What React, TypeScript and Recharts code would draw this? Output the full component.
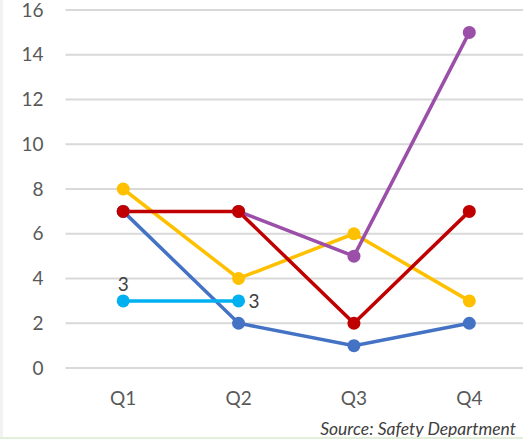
import React from 'react';
import { LineChart, Line, XAxis, YAxis, CartesianGrid, LabelList } from 'recharts';

const categories = ['Q1', 'Q2', 'Q3', 'Q4'];
const blueValues = [7, 2, 1, 2];
const yellowValues = [8, 4, 6, 3];
const purpleValues: (number | null)[] = [null, 7, 5, 15];
const redValues = [7, 7, 2, 7];
const lightBlueValues: (number | null)[] = [3, 3, null, null];
const yTicks = [0, 2, 4, 6, 8, 10, 12, 14, 16];
const sourceText = 'Source: Safety Department';

const data = categories.map((c, i) => ({
  name: c,
  blue: blueValues[i],
  yellow: yellowValues[i],
  purple: purpleValues[i],
  red: redValues[i],
  lightBlue: lightBlueValues[i],
}));

const FONT = 'Lato, "Open Sans", sans-serif';

const LightBlueLabel = (props: any) => {
  const { x, y, value, index } = props;
  if (value == null) return null;
  if (index === 0) {
    return (
      <text x={x} y={y - 10} textAnchor="middle" fill="#404040" fontSize={19} fontFamily={FONT}>
        {value}
      </text>
    );
  }
  return (
    <text x={x + 10} y={y + 7} textAnchor="start" fill="#404040" fontSize={19} fontFamily={FONT}>
      {value}
    </text>
  );
};

const dot = (color: string) => ({ r: 6.5, fill: color, stroke: color, strokeWidth: 0 });

export default function App() {
  return (
    <div
      style={{
        position: 'fixed',
        left: 0,
        top: 0,
        width: 523,
        height: 439,
        overflow: 'hidden',
        background: '#ffffff',
        fontFamily: FONT,
      }}
    >
      <div style={{ position: 'absolute', left: 0, top: 0, width: 3, height: 437, background: '#f2f2f2' }} />
      <LineChart
        width={527}
        height={439}
        data={data}
        margin={{ top: 10, right: 0, left: 5.5, bottom: 41 }}
      >
        <CartesianGrid vertical={false} stroke="#d9d9d9" strokeWidth={2} />
        <XAxis
          dataKey="name"
          axisLine={false}
          tickLine={false}
          height={30}
          tickMargin={18}
          padding={{ left: 57.7, right: 57.7 }}
          tick={{ fill: '#595959', fontSize: 19, fontFamily: FONT }}
        />
        <YAxis
          domain={[0, 16]}
          ticks={yTicks}
          axisLine={false}
          tickLine={false}
          width={60}
          tickMargin={16}
          interval={0}
          tick={{ fill: '#595959', fontSize: 19, fontFamily: FONT }}
        />
        <Line dataKey="blue" stroke="#4472C4" strokeWidth={3.5} dot={dot('#4472C4')} activeDot={false} isAnimationActive={false} />
        <Line dataKey="yellow" stroke="#FFC000" strokeWidth={3.5} dot={dot('#FFC000')} activeDot={false} isAnimationActive={false} />
        <Line dataKey="purple" stroke="#9B4FA8" strokeWidth={3.5} dot={dot('#9B4FA8')} activeDot={false} isAnimationActive={false} />
        <Line dataKey="red" stroke="#C00000" strokeWidth={3.5} dot={dot('#C00000')} activeDot={false} isAnimationActive={false} />
        <Line dataKey="lightBlue" stroke="#00B0F0" strokeWidth={3.5} dot={dot('#00B0F0')} activeDot={false} isAnimationActive={false}>
          <LabelList dataKey="lightBlue" content={<LightBlueLabel />} />
        </Line>
      </LineChart>
      <div
        style={{
          position: 'absolute',
          right: 7,
          top: 418,
          fontSize: 17.5,
          fontStyle: 'italic',
          color: '#404040',
          fontFamily: FONT,
          lineHeight: '21px',
          whiteSpace: 'nowrap',
        }}
      >
        {sourceText}
      </div>
      <div style={{ position: 'absolute', left: 0, top: 437, width: 523, height: 2, background: '#e2efda' }} />
    </div>
  );
}
